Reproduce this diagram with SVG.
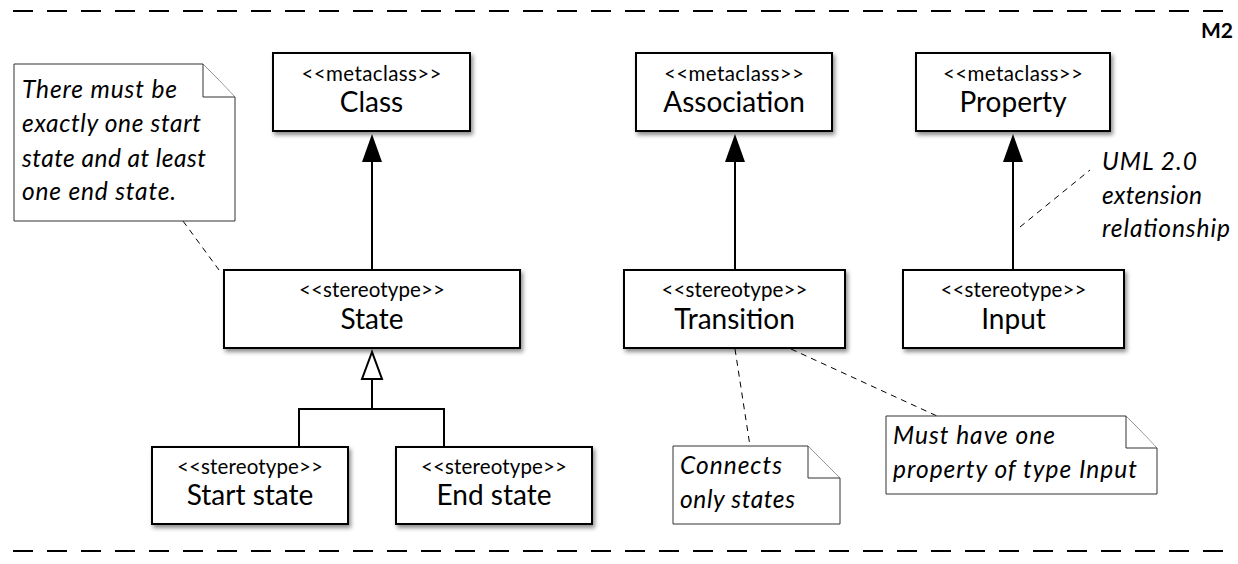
<svg xmlns="http://www.w3.org/2000/svg" width="1238" height="564" viewBox="0 0 1238 564">
<style>
text{font-family:"Lato","Liberation Sans",sans-serif;fill:#000}
.box{fill:#fff;stroke:#000;stroke-width:2;filter:url(#sh)}
.st{font-size:20.5px;text-anchor:middle}
.nm{font-size:28px;text-anchor:middle}
.note{fill:#fff;stroke:#333;stroke-width:1}
.nt{font-size:24.5px;font-style:italic}
.ln{stroke:#000;stroke-width:2;fill:none}
.lead{stroke:#000;stroke-width:1;stroke-dasharray:6,5;fill:none}
.frame{stroke:#000;stroke-width:2;stroke-dasharray:20,14;fill:none}
</style>
<defs>
<filter id="sh" x="-10%" y="-10%" width="130%" height="140%">
<feDropShadow dx="2" dy="3" stdDeviation="2" flood-color="#000" flood-opacity="0.45"/>
</filter>
</defs>
<g id="frame">
<line class="frame" x1="13" y1="11" x2="1236" y2="11"/>
<line class="frame" x1="13" y1="551" x2="1236" y2="551"/>
<text x="1233" y="38" style="font-size:21px;font-weight:bold;text-anchor:end">M2</text>
</g>
<g id="connectors">
<line class="ln" x1="372" y1="160" x2="372" y2="270"/>
<polygon points="372,134 362,162 382,162" fill="#000"/>
<line class="ln" x1="735" y1="160" x2="735" y2="270"/>
<polygon points="735,134 725,162 745,162" fill="#000"/>
<line class="ln" x1="1013" y1="160" x2="1013" y2="270"/>
<polygon points="1013,134 1003,162 1023,162" fill="#000"/>
<polyline class="ln" points="372,379 372,409"/>
<polyline class="ln" points="299,447 299,409 444,409 444,447"/>
<polygon points="372,352 362,379 382,379" fill="#fff" stroke="#000" stroke-width="2"/>
<line class="lead" x1="183" y1="221" x2="219" y2="270"/>
<line class="lead" x1="1020" y1="227" x2="1090" y2="170"/>
<line class="lead" x1="735" y1="349" x2="750" y2="446"/>
<line class="lead" x1="791" y1="349" x2="937" y2="416"/>
</g>
<g id="class">
<rect class="box" x="273" y="53" width="197" height="78"/>
<text class="st" x="371.5" y="81" textLength="140">&lt;&lt;metaclass&gt;&gt;</text>
<text class="nm" x="371.5" y="112">Class</text>
</g>
<g id="association">
<rect class="box" x="636" y="53" width="196" height="78"/>
<text class="st" x="734" y="81" textLength="140">&lt;&lt;metaclass&gt;&gt;</text>
<text class="nm" x="734" y="112">Association</text>
</g>
<g id="property">
<rect class="box" x="916" y="53" width="194" height="78"/>
<text class="st" x="1013" y="81" textLength="140">&lt;&lt;metaclass&gt;&gt;</text>
<text class="nm" x="1013" y="112">Property</text>
</g>
<g id="state">
<rect class="box" x="224" y="270" width="296" height="78"/>
<text class="st" x="372" y="297" textLength="146">&lt;&lt;stereotype&gt;&gt;</text>
<text class="nm" x="372" y="329">State</text>
</g>
<g id="transition">
<rect class="box" x="624" y="270" width="221" height="78"/>
<text class="st" x="734.5" y="297" textLength="146">&lt;&lt;stereotype&gt;&gt;</text>
<text class="nm" x="734.5" y="329">Transition</text>
</g>
<g id="input">
<rect class="box" x="903" y="270" width="221" height="78"/>
<text class="st" x="1013.5" y="297" textLength="146">&lt;&lt;stereotype&gt;&gt;</text>
<text class="nm" x="1013.5" y="329">Input</text>
</g>
<g id="start-state">
<rect class="box" x="152" y="447" width="196" height="77"/>
<text class="st" x="250" y="474" textLength="146">&lt;&lt;stereotype&gt;&gt;</text>
<text class="nm" x="250" y="505">Start state</text>
</g>
<g id="end-state">
<rect class="box" x="396" y="447" width="196" height="77"/>
<text class="st" x="494" y="474" textLength="146">&lt;&lt;stereotype&gt;&gt;</text>
<text class="nm" x="494" y="505">End state</text>
</g>
<g id="note-start">
<path class="note" d="M14,64 H203 L235,97 V221 H14 Z"/>
<path class="note" d="M203,64 V97 H235"/>
<text class="nt" x="22" y="98" textLength="155">There must be</text>
<text class="nt" x="22" y="132" textLength="179">exactly one start</text>
<text class="nt" x="22" y="167" textLength="184">state and at least</text>
<text class="nt" x="22" y="200" textLength="154">one end state.</text>
</g>
<g id="note-uml">
<text class="nt" x="1102" y="170" textLength="95">UML 2.0</text>
<text class="nt" x="1102" y="204" textLength="100">extension</text>
<text class="nt" x="1102" y="237" textLength="128">relationship</text>
</g>
<g id="note-connects">
<path class="note" d="M673,446 H808 L840,478 V524 H673 Z"/>
<path class="note" d="M808,446 V478 H840"/>
<text class="nt" x="680" y="474" textLength="102">Connects</text>
<text class="nt" x="680" y="508" textLength="115">only states</text>
</g>
<g id="note-must">
<path class="note" d="M886,416 H1126 L1157,448 V494 H886 Z"/>
<path class="note" d="M1126,416 V448 H1157"/>
<text class="nt" x="893" y="444" textLength="162">Must have one</text>
<text class="nt" x="893" y="478" textLength="244">property of type Input</text>
</g>
</svg>
